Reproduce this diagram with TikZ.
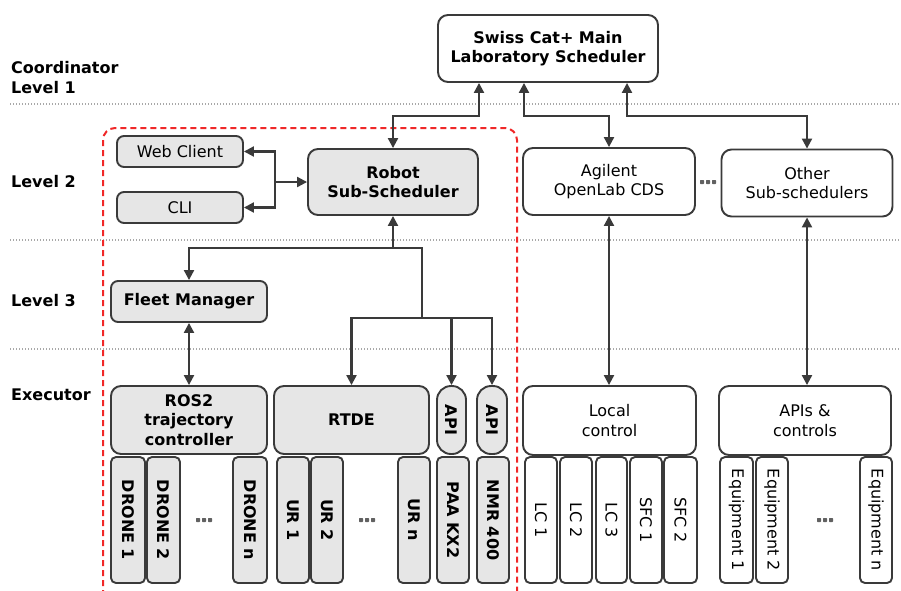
\documentclass[tikz,border=0pt]{standalone}
\usepackage{fontspec}
\setmainfont{DejaVu Sans}
\usetikzlibrary{arrows.meta,calc}

\definecolor{edge}{HTML}{3A3A3A}
\definecolor{panel}{HTML}{E6E6E6}
\definecolor{rule}{HTML}{A8A8A8}
\definecolor{zone}{HTML}{F02828}

\newcommand\bodysize{\fontsize{16}{19.5}\selectfont}
% three small squares used as an ellipsis between boxes
\newcommand\tridots[2]{%
  \foreach \k in {-6,0,6}{\fill[edge!80, rounded corners=0.6pt] ({#1+\k-2},{#2-2}) rectangle ({#1+\k+2},{#2+2});}}

\tikzset{
  plain/.style={draw=edge, line width=1.9pt, rounded corners=7pt, inner sep=0pt,
                align=center, font=\bodysize, fill=white},
  softbox/.style={plain, fill=panel},
  shaded/.style={plain, fill=panel, font=\bodysize\bfseries},
  barbox/.style={shaded, rotate=-90, rounded corners=5pt, minimum width=126pt},
  plainbar/.style={plain, rotate=-90, rounded corners=5pt, minimum width=126pt},
  tag/.style={font=\bodysize\bfseries, anchor=base west, inner sep=0pt},
  link/.style={draw=edge, line width=2.1pt},
  bidir/.style={link, {Triangle[length=10pt,width=10pt]}-{Triangle[length=10pt,width=10pt]}},
  tip/.style={link, -{Triangle[length=10pt,width=10pt]}},
  tier/.style={draw=rule, line width=1.2pt, dash pattern=on 1.2pt off 1.8pt},
  zoneline/.style={draw=zone, line width=2pt, dash pattern=on 6pt off 4pt, rounded corners=12pt},
}

\begin{document}
\begin{tikzpicture}[x=1pt, y=-1pt]
\fill[white] (0,0) rectangle (901,590);
\useasboundingbox (0,0) rectangle (901,590);

% tier separators
\draw[tier] (10,104) -- (900,104);
\draw[tier] (10,240) -- (900,240);
\draw[tier] (10,349) -- (900,349);

% tier names
\node[tag] (t1a) at (11,73) {Coordinator};
\node[tag] (t1b) at (11,93) {Level 1};
\node[tag] (t2) at (11,187) {Level 2};
\node[tag] (t3) at (11,306) {Level 3};
\node[tag] (t4) at (11,400) {Executor};

% robot domain
\draw[zoneline] (103,596) -- (103,128) -- (517,128) -- (517,596);

% coordinator
\node[plain, font=\bodysize\bfseries, rounded corners=10pt, minimum width=220pt, minimum height=67pt]
  (main) at (548,48.5) {Swiss Cat+ Main\\Laboratory Scheduler};

% level 2
\node[softbox, minimum width=126pt, minimum height=31pt] (web) at (180,151.5) {Web Client};
\node[softbox, minimum width=126pt, minimum height=31pt] (cli) at (180,207.5) {CLI};
\node[shaded, rounded corners=10pt, minimum width=170pt, minimum height=66pt] (robot) at (393,182) {Robot\\Sub-Scheduler};
\node[plain, rounded corners=10pt, minimum width=172pt, minimum height=67pt] (agilent) at (609,181.5) {Agilent\\OpenLab CDS};
\node[plain, rounded corners=10pt, minimum width=171pt, minimum height=67pt] (other) at (807,183) {Other\\Sub-schedulers};
\tridots{708}{182}

% level 3
\node[shaded, minimum width=156pt, minimum height=41pt] (fleet) at (189,301.5) {Fleet Manager};

% executor controllers
\node[shaded, rounded corners=10pt, minimum width=156pt, minimum height=68pt] (ros2) at (189,420) {ROS2\\trajectory\\controller};
\node[shaded, rounded corners=10pt, minimum width=155pt, minimum height=68pt] (rtde) at (351.5,420) {RTDE};
\node[shaded, rotate=-90, rounded corners=14pt, minimum width=68pt, minimum height=29pt] (api1) at (451.5,420) {API};
\node[shaded, rotate=-90, rounded corners=14pt, minimum width=68pt, minimum height=30pt] (api2) at (492,420) {API};
\node[plain, rounded corners=10pt, minimum width=173pt, minimum height=69pt] (local) at (609.5,420.5) {Local\\control};
\node[plain, rounded corners=10pt, minimum width=172pt, minimum height=69pt] (apis) at (805,420.5) {APIs \&\\controls};

% executor devices
\node[barbox, minimum height=34pt] (d1) at (128,520) {DRONE 1};
\node[barbox, minimum height=33pt] (d2) at (163.5,520) {DRONE 2};
\tridots{204}{520}
\node[barbox, minimum height=34pt] (dn) at (250,520) {DRONE n};
\node[barbox, minimum height=32pt] (ur1) at (293,520) {UR 1};
\node[barbox, minimum height=32pt] (ur2) at (327,520) {UR 2};
\tridots{367}{520}
\node[barbox, minimum height=32pt] (urn) at (414,520) {UR n};
\node[barbox, minimum height=32pt] (paa) at (453,520) {PAA KX2};
\node[barbox, minimum height=32pt] (nmr) at (493,520) {NMR 400};
\node[plainbar, minimum height=32pt] (lc1) at (541,520) {LC 1};
\node[plainbar, minimum height=32pt] (lc2) at (576,520) {LC 2};
\node[plainbar, minimum height=31pt] (lc3) at (611.5,520) {LC 3};
\node[plainbar, minimum height=32pt] (sfc1) at (646,520) {SFC 1};
\node[plainbar, minimum height=33pt] (sfc2) at (680.5,520) {SFC 2};
\node[plainbar, minimum height=33pt] (eq1) at (736.5,520) {Equipment 1};
\node[plainbar, minimum height=32pt] (eq2) at (772,520) {Equipment 2};
\tridots{825}{520}
\node[plainbar, minimum height=32pt] (eqn) at (876,520) {Equipment n};

% coordinator links
\draw[bidir] ([xshift=-69pt]main.south) -- ++(0,33) -| (robot.north);
\draw[bidir] ([xshift=-24pt]main.south) -- ++(0,33) -| (agilent.north);
\draw[bidir] ([xshift=79pt]main.south) -- ++(0,33) -| (other.north);

% robot scheduler clients
\coordinate (hub) at (275,182);
\draw[tip] (hub) -- (robot.west);
\draw[tip] (hub) |- (web.east);
\draw[tip] (hub) |- (cli.east);

% robot scheduler to lower tiers
\draw[tip] ([yshift=-32pt]robot.south) coordinate (rb) -- (robot.south);
\draw[tip] (rb) -| (fleet.north);
\draw[link] (rb) -- ++(29,0) -- ++(0,70) coordinate (rd);
\draw[tip] (rd) -| (rtde.north);
\draw[tip] (rd) -| (api1.west);
\draw[tip] (rd) -| (api2.west);
\draw[bidir] (fleet.south) -- (ros2.north);

% other sub-schedulers to their controllers
\draw[bidir] (agilent.south) -- (agilent.south |- local.north);
\draw[bidir] (other.south) -- (other.south |- apis.north);
\end{tikzpicture}
\end{document}
